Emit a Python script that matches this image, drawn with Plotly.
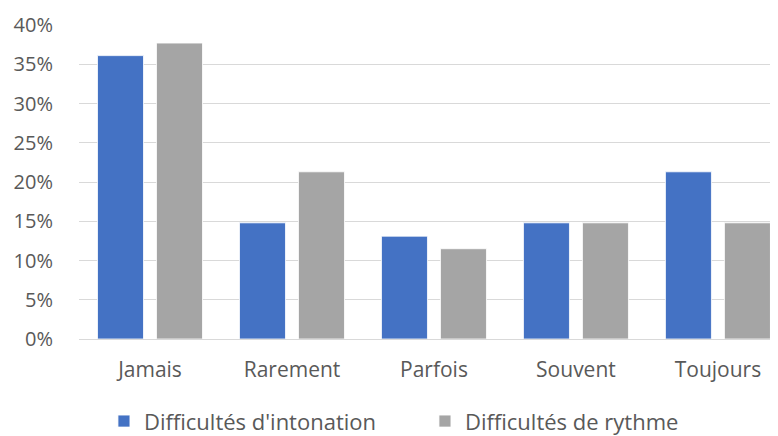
import plotly.graph_objects as go

categories = ["Jamais", "Rarement", "Parfois", "Souvent", "Toujours"]
intonation = [36.1, 14.8, 13.1, 14.8, 21.3]
rythme = [37.7, 21.3, 11.5, 14.8, 14.8]
series_names = ["Difficultés d'intonation", "Difficultés de rythme"]
tick_vals = [0, 5, 10, 15, 20, 25, 30, 35, 40]
tick_text = [f"{v}%" for v in tick_vals]

font_family = "'Open Sans', Lato, sans-serif"
text_color = "#595959"

fig = go.Figure()
fig.add_trace(go.Bar(x=categories, y=intonation, name=series_names[0],
                     marker=dict(color="#4472C4", line=dict(color="white", width=0.8))))
fig.add_trace(go.Bar(x=categories, y=rythme, name=series_names[1],
                     marker=dict(color="#A5A5A5", line=dict(color="white", width=0.8))))

# the page body adds an 8px margin, so the figure is 8px smaller and offset
fig.update_layout(
    width=770, height=428,
    margin=dict(l=71, r=0, t=17, b=97, autoexpand=False),
    paper_bgcolor="white", plot_bgcolor="white",
    barmode="group", bargap=0.169, bargroupgap=0.22,
    font=dict(family=font_family, color=text_color, size=19),
    legend=dict(orientation="h", x=0.0357, xanchor="left", y=-0.262, yanchor="middle",
                font=dict(size=22, color=text_color), itemwidth=30,
                entrywidth=276, entrywidthmode="pixels",
                traceorder="normal"),
    xaxis=dict(range=[-0.5, 4.423], showgrid=False, showline=False, ticks="",
               automargin=False,
               tickfont=dict(size=21, color=text_color), ticklabelstandoff=16),
    yaxis=dict(range=[0, 40], tickvals=tick_vals, ticktext=tick_text,
               automargin=False,
               showgrid=True, gridcolor="#D9D9D9", gridwidth=1.3,
               zeroline=True, zerolinecolor="#D9D9D9", zerolinewidth=1.3,
               showline=False, ticks="", ticklabelstandoff=25,
               tickfont=dict(size=20, color=text_color)),
)

fig.write_html("out.html")
